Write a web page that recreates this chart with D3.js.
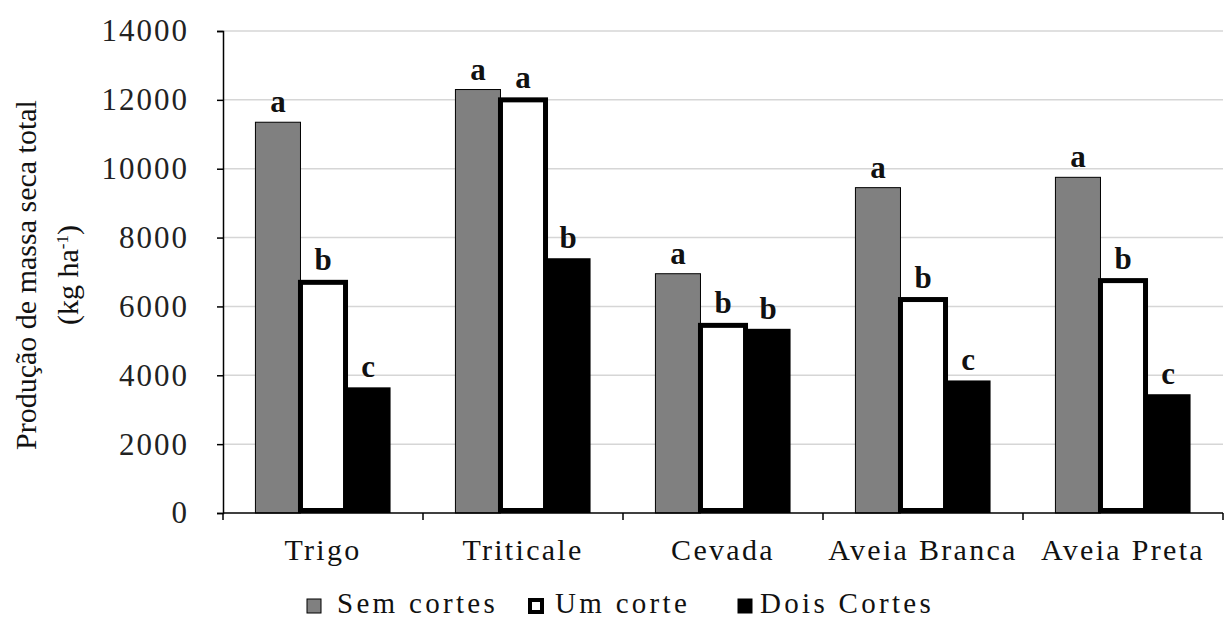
<!DOCTYPE html>
<html>
<head>
<meta charset="utf-8">
<script src="https://cdn.jsdelivr.net/npm/d3@7"></script>
<style>
  body { margin: 0; background: #fff; }
  text { font-family: "Liberation Serif", "Times New Roman", serif; fill: #111; }
</style>
</head>
<body>
<svg id="chart" width="1225" height="619"></svg>
<script>
// categories and series
var categories = ["Trigo", "Triticale", "Cevada", "Aveia Branca", "Aveia Preta"];
var seriesNames = ["Sem cortes", "Um corte", "Dois Cortes"];

var semCortes  = [11350, 12300, 6950, 9450, 9750];
var umCorte    = [6700, 12000, 5450, 6200, 6750];
var doisCortes = [3650, 7400, 5350, 3850, 3450];

// letters from the mean comparison test
var lettersSem  = ["a", "a", "a", "a", "a"];
var lettersUm   = ["b", "a", "b", "b", "b"];
var lettersDois = ["c", "b", "b", "c", "c"];

var yTicks = [0, 2000, 4000, 6000, 8000, 10000, 12000, 14000];

var serif = "'Liberation Serif', 'Times New Roman', serif";
var svg = d3.select("#chart");

// note: "top" is taken by window.top, so use other names
var plotL = 223, plotR = 1223, plotT = 31, plotB = 513;

var x0 = d3.scaleBand().domain(categories).range([plotL, plotR]);
var x1 = d3.scaleBand().domain(seriesNames).range([0, x0.bandwidth()]).paddingOuter(0.72);
var y = d3.scaleLinear().domain([0, 14000]).range([plotB, plotT]);

var fills = { "Sem cortes": "#808080", "Um corte": "#ffffff", "Dois Cortes": "#000000" };

//gridlines
svg.append("g").selectAll("line")
  .data(yTicks.slice(1))
  .enter().append("line")
  .attr("x1", plotL).attr("x2", plotR)
  .attr("y1", function(d) { return y(d); })
  .attr("y2", function(d) { return y(d); })
  .style("stroke", "#d6d6d6")
  .style("stroke-width", 1.5);

// build rows for bars
var rows = [];
categories.forEach(function(c, i) {
  rows.push({ cat: c, s: "Sem cortes", v: semCortes[i], l: lettersSem[i] });
  rows.push({ cat: c, s: "Um corte", v: umCorte[i], l: lettersUm[i] });
  rows.push({ cat: c, s: "Dois Cortes", v: doisCortes[i], l: lettersDois[i] });
});

var bars = svg.append("g");

bars.selectAll("rect.gray")
  .data(rows.filter(function(d) { return d.s == "Sem cortes"; }))
  .enter().append("rect")
  .attr("x", function(d) { return x0(d.cat) + x1(d.s); })
  .attr("y", function(d) { return y(d.v); })
  .attr("width", x1.bandwidth())
  .attr("height", function(d) { return y(0) - y(d.v); })
  .style("fill", fills["Sem cortes"])
  .style("stroke", "#000")
  .style("stroke-width", 1);

bars.selectAll("rect.black")
  .data(rows.filter(function(d) { return d.s == "Dois Cortes"; }))
  .enter().append("rect")
  .attr("x", function(d) { return x0(d.cat) + x1(d.s); })
  .attr("y", function(d) { return y(d.v); })
  .attr("width", x1.bandwidth())
  .attr("height", function(d) { return y(0) - y(d.v); })
  .style("fill", fills["Dois Cortes"]);

// white bars have the thick black border
bars.selectAll("rect.white")
  .data(rows.filter(function(d) { return d.s == "Um corte"; }))
  .enter().append("rect")
  .attr("x", function(d) { return x0(d.cat) + x1(d.s); })
  .attr("y", function(d) { return y(d.v); })
  .attr("width", x1.bandwidth())
  .attr("height", function(d) { return y(0) - y(d.v) - 2.5; })
  .style("fill", "#fff")
  .style("stroke", "#000")
  .style("stroke-width", 5);

// letters above bars
svg.append("g").selectAll("text")
  .data(rows)
  .enter().append("text")
  .attr("x", function(d) { return x0(d.cat) + x1(d.s) + x1.bandwidth() / 2; })
  .attr("y", function(d) { return y(d.v) - (d.s == "Um corte" ? 12 : 10); })
  .attr("text-anchor", "middle")
  .style("font-family", serif)
  .style("font-weight", "bold")
  .style("font-size", "31px")
  .text(function(d) { return d.l; });

// y axis
var yAxis = svg.append("g")
  .attr("transform", "translate(" + plotL + ",0)")
  .call(d3.axisLeft(y).tickValues(yTicks).tickSize(6).tickPadding(28).tickFormat(d3.format("d")));
yAxis.select(".domain").style("stroke", "#000").style("stroke-width", 1.5);
yAxis.selectAll(".tick line").style("stroke", "#000").style("stroke-width", 1.5);
yAxis.selectAll("text")
  .style("font-family", serif)
  .style("font-size", "31px")
  .style("letter-spacing", "2px")
  .style("fill", "#222");

// x axis, ticks at category boundaries
var xAxis = svg.append("g")
  .attr("transform", "translate(0," + plotB + ")");
xAxis.append("line")
  .attr("x1", plotL).attr("x2", plotR)
  .style("stroke", "#000").style("stroke-width", 1.5);
xAxis.selectAll("line.tk")
  .data(categories.concat([null]))
  .enter().append("line")
  .attr("x1", function(d) { return d ? x0(d) : plotR; })
  .attr("x2", function(d) { return d ? x0(d) : plotR; })
  .attr("y1", 0).attr("y2", 7)
  .style("stroke", "#000").style("stroke-width", 1.5);
xAxis.selectAll("text")
  .data(categories)
  .enter().append("text")
  .attr("x", function(d) { return x0(d) + x0.bandwidth() / 2; })
  .attr("y", 47)
  .attr("text-anchor", "middle")
  .style("font-family", serif)
  .style("font-size", "30px")
  .style("letter-spacing", "2.3px")
  .text(function(d) { return d; });

// y axis title, two lines
var title = svg.append("g").attr("transform", "translate(36,275) rotate(-90)");
title.append("text")
  .attr("text-anchor", "middle")
  .style("font-family", serif)
  .style("font-size", "30px")
  .text("Produção de massa seca total");
var t2 = title.append("text")
  .attr("y", 42)
  .attr("text-anchor", "middle")
  .style("font-family", serif)
  .style("font-size", "30px");
t2.append("tspan").text("(kg ha");
t2.append("tspan").attr("dy", -10).style("font-size", "17px").text("-1");
t2.append("tspan").attr("dy", 10).text(")");

// legend along the bottom edge
var legendX = [307, 530, 738];
var legend = svg.append("g");
var item = legend.selectAll("g")
  .data(seriesNames)
  .enter().append("g")
  .attr("transform", function(d, i) { return "translate(" + legendX[i] + ",0)"; });
item.append("rect")
  .attr("x", 0)
  .attr("y", function(d) { return d == "Um corte" ? 600 : 599; })
  .attr("width", function(d) { return d == "Um corte" ? 12 : 14; })
  .attr("height", function(d) { return d == "Um corte" ? 12 : 14; })
  .style("fill", function(d) { return fills[d]; })
  .style("stroke", "#000")
  .style("stroke-width", function(d) { return d == "Um corte" ? 4 : 1; });
item.append("text")
  .attr("x", function(d) { return d == "Um corte" ? 25 : (d == "Dois Cortes" ? 22 : 30); })
  .attr("y", 613)
  .style("font-family", serif)
  .style("font-size", "29px")
  .style("letter-spacing", "3.3px")
  .text(function(d) { return d; });
</script>
</body>
</html>
